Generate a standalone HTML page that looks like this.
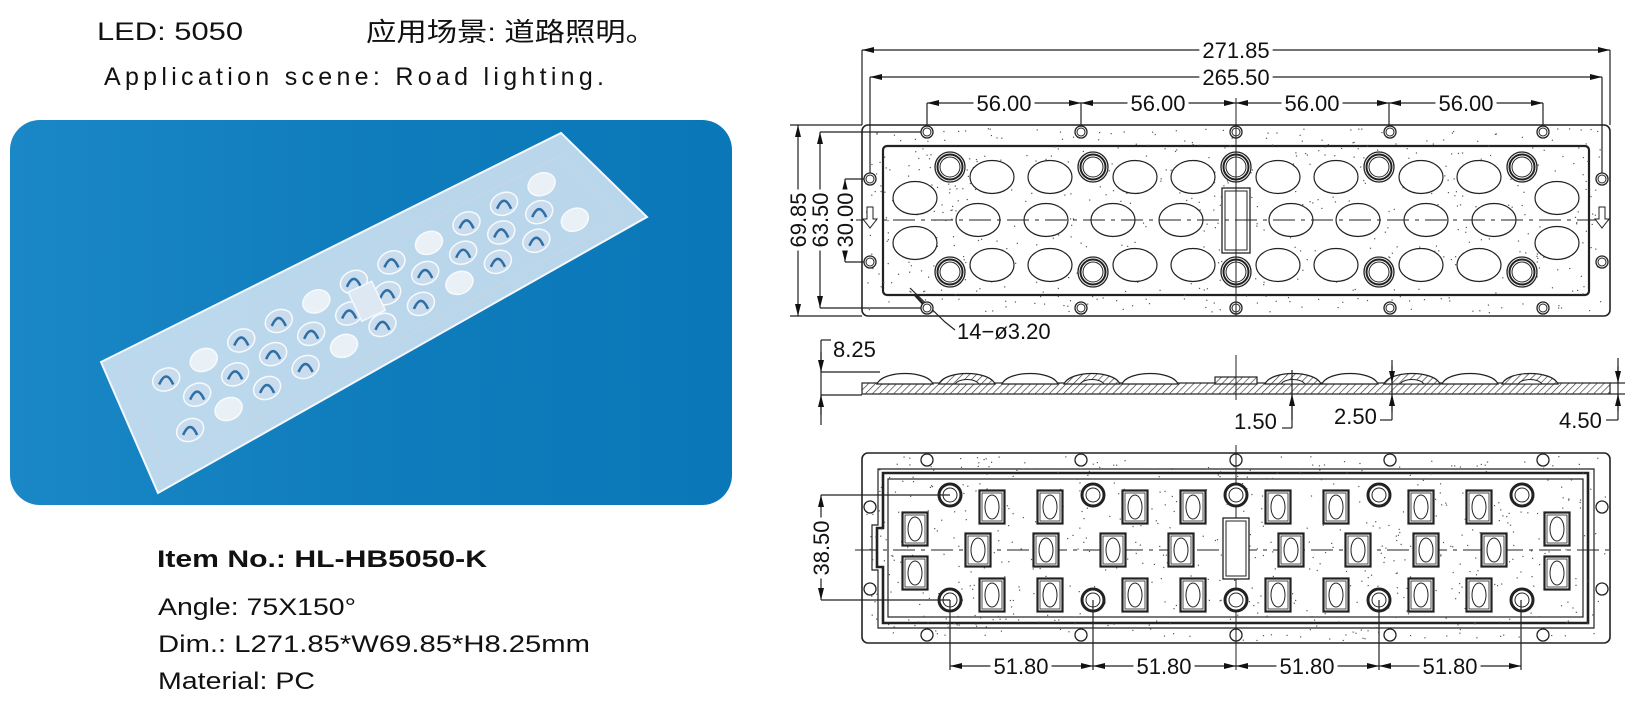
<!DOCTYPE html>
<html><head><meta charset="utf-8">
<style>
html,body{margin:0;padding:0;background:#fff;}
svg{display:block;}
.t{font-family:"Liberation Sans",Arial,sans-serif;fill:#111;}
.d{font-family:"Liberation Sans",Arial,sans-serif;font-size:22px;fill:#111;}
.ln{stroke:#222;stroke-width:1.2;fill:none;}
</style></head>
<body>
<svg id="s" width="1636" height="724" viewBox="0 0 1636 724" xmlns="http://www.w3.org/2000/svg">
<defs>
<marker id="a" viewBox="0 0 12 6" refX="12" refY="3" markerWidth="12" markerHeight="6" orient="auto-start-reverse" markerUnits="userSpaceOnUse"><path d="M0,0 L12,3 L0,6 z" fill="#111"/></marker>
<pattern id="h" width="5" height="5" patternUnits="userSpaceOnUse" patternTransform="rotate(45)"><rect width="5" height="5" fill="#fff"/><line x1="0" y1="0" x2="0" y2="5" stroke="#333" stroke-width="1.3"/></pattern>
<linearGradient id="bg" x1="0" x2="1" y1="0" y2="0"><stop offset="0" stop-color="#1a87c6"/><stop offset="0.5" stop-color="#0f7cbc"/><stop offset="1" stop-color="#0a78b8"/></linearGradient>
</defs>

<text class="t" x="97" y="40" font-size="25" textLength="146" lengthAdjust="spacingAndGlyphs">LED: 5050</text>
<text class="t" x="366" y="41" font-size="26" font-family="'Liberation Sans','Noto Sans CJK SC',sans-serif" textLength="290" lengthAdjust="spacingAndGlyphs">应用场景: 道路照明。</text>
<text class="t" x="104" y="85" font-size="25" textLength="500" lengthAdjust="spacing">Application  scene: Road  lighting.</text>

<rect x="10" y="120" width="722" height="385" rx="30" fill="url(#bg)"/>
<g id="photo">
<polygon points="101,362 561,133 647,217 158,493" fill="#e6eef6" fill-opacity="0.8" stroke="#f4f8fc" stroke-width="2"/>
<polygon points="122,372 560,156 622,218 165,470" fill="none" stroke="#c5d5e6" stroke-width="1.5"/>
</g>

<text class="t" x="157" y="567" font-size="24" font-weight="bold" textLength="330" lengthAdjust="spacingAndGlyphs">Item No.: HL-HB5050-K</text>
<text class="t" x="158" y="615" font-size="24" textLength="198" lengthAdjust="spacingAndGlyphs">Angle: 75X150°</text>
<text class="t" x="158" y="652" font-size="24" textLength="432" lengthAdjust="spacingAndGlyphs">Dim.: L271.85*W69.85*H8.25mm</text>
<text class="t" x="158" y="689" font-size="24" textLength="157" lengthAdjust="spacingAndGlyphs">Material: PC</text>

<g id="top">
<rect x="862" y="125" width="748" height="191" rx="6" fill="#fff" stroke="#222" stroke-width="1.6"/>
<rect x="883" y="146" width="706" height="149" rx="4" fill="none" stroke="#222" stroke-width="2.2"/>
</g>
<g class="ln">
<line x1="862" y1="50" x2="862" y2="125"/><line x1="1610" y1="50" x2="1610" y2="125"/>
<line x1="862" y1="50" x2="1610" y2="50" marker-start="url(#a)" marker-end="url(#a)"/>
<line x1="870" y1="77" x2="870" y2="179"/><line x1="1602" y1="77" x2="1602" y2="179"/>
<line x1="870" y1="77" x2="1602" y2="77" marker-start="url(#a)" marker-end="url(#a)"/>
<line x1="927" y1="103" x2="927" y2="132"/><line x1="1081" y1="103" x2="1081" y2="132"/><line x1="1389" y1="103" x2="1389" y2="132"/><line x1="1543" y1="103" x2="1543" y2="132"/>
<line x1="927" y1="103" x2="1081" y2="103" marker-start="url(#a)" marker-end="url(#a)"/>
<line x1="1081" y1="103" x2="1236" y2="103" marker-start="url(#a)" marker-end="url(#a)"/>
<line x1="1236" y1="103" x2="1389" y2="103" marker-start="url(#a)" marker-end="url(#a)"/>
<line x1="1389" y1="103" x2="1543" y2="103" marker-start="url(#a)" marker-end="url(#a)"/>
<line x1="1236" y1="98" x2="1236" y2="125" stroke-width="1"/>
<line x1="790" y1="125" x2="862" y2="125"/><line x1="790" y1="316" x2="862" y2="316"/>
<line x1="798" y1="125" x2="798" y2="316" marker-start="url(#a)" marker-end="url(#a)"/>
<line x1="820" y1="132" x2="927" y2="132"/><line x1="820" y1="308" x2="927" y2="308"/>
<line x1="820" y1="132" x2="820" y2="308" marker-start="url(#a)" marker-end="url(#a)"/>
<line x1="845" y1="179" x2="870" y2="179"/><line x1="845" y1="262" x2="870" y2="262"/>
<line x1="845" y1="179" x2="845" y2="262" marker-start="url(#a)" marker-end="url(#a)"/>
<polyline points="910,288 945,322 955,330"/>
<line x1="927" y1="308" x2="915" y2="295" stroke-width="2.5"/>
</g>
<g id="topitems"></g>
<path d="M867,207 h6 v12 h4 l-7,9 l-7,-9 h4 z" fill="#fff" stroke="#222" stroke-width="1"/>
<path d="M1599,207 h6 v12 h4 l-7,9 l-7,-9 h4 z" fill="#fff" stroke="#222" stroke-width="1"/>
<g id="dimtext">
<text class="d" x="1236" y="58" text-anchor="middle">271.85</text>
<text class="d" x="1236" y="85" text-anchor="middle">265.50</text>
<text class="d" x="1004" y="111" text-anchor="middle">56.00</text>
<text class="d" x="1158" y="111" text-anchor="middle">56.00</text>
<text class="d" x="1312" y="111" text-anchor="middle">56.00</text>
<text class="d" x="1466" y="111" text-anchor="middle">56.00</text>
<text class="d" transform="translate(806,220) rotate(-90)" text-anchor="middle">69.85</text>
<text class="d" transform="translate(828,220) rotate(-90)" text-anchor="middle">63.50</text>
<text class="d" transform="translate(853,220) rotate(-90)" text-anchor="middle">30.00</text>
<text class="d" transform="translate(829,548) rotate(-90)" text-anchor="middle">38.50</text>
<text class="d" x="1021" y="674" text-anchor="middle">51.80</text>
<text class="d" x="1164" y="674" text-anchor="middle">51.80</text>
<text class="d" x="1307" y="674" text-anchor="middle">51.80</text>
<text class="d" x="1450" y="674" text-anchor="middle">51.80</text>
</g>
<text class="d" x="957" y="339">14−ø3.20</text>

<g id="side"></g>
<g class="ln">
<line x1="821" y1="340" x2="821" y2="425"/>
<line x1="821" y1="340" x2="831" y2="340"/>
<line x1="821" y1="372" x2="880" y2="372"/>
<line x1="821" y1="395" x2="862" y2="395"/>
<line x1="821" y1="352" x2="821" y2="372" marker-end="url(#a)"/>
<line x1="821" y1="415" x2="821" y2="395" marker-end="url(#a)"/>
<line x1="1236" y1="355" x2="1236" y2="400" stroke-width="1"/>
<line x1="1292" y1="370" x2="1292" y2="428"/><polyline points="1282,428 1292,428"/>
<line x1="1292" y1="420" x2="1292" y2="394" marker-end="url(#a)"/>
<line x1="1392" y1="360" x2="1392" y2="420"/><polyline points="1380,420 1392,420"/>
<line x1="1392" y1="366" x2="1392" y2="383" marker-end="url(#a)"/>
<line x1="1392" y1="412" x2="1392" y2="394" marker-end="url(#a)"/>
<line x1="1618" y1="358" x2="1618" y2="420"/><polyline points="1606,420 1618,420"/>
<line x1="1610" y1="383" x2="1625" y2="383"/><line x1="1610" y1="394" x2="1625" y2="394"/>
<line x1="1618" y1="366" x2="1618" y2="383" marker-end="url(#a)"/>
<line x1="1618" y1="411" x2="1618" y2="394" marker-end="url(#a)"/>
</g>
<text class="d" x="833" y="357">8.25</text>
<text class="d" x="1234" y="429">1.50</text>
<text class="d" x="1334" y="424">2.50</text>
<text class="d" x="1559" y="428">4.50</text>

<g id="botbase">
<rect x="862" y="453" width="748" height="190" rx="6" fill="#fff" stroke="#222" stroke-width="1.6"/>
<path d="M878,469 H1594 V628 H878 V570 H872 V525 H878 Z" fill="none" stroke="#222" stroke-width="1.2"/>
<path d="M883,473 H1588 V623 H883 V567 H877 V528 H883 Z" fill="none" stroke="#222" stroke-width="2.6"/>
<rect x="888" y="479" width="695" height="138" fill="none" stroke="#222" stroke-width="1.2"/>
</g>
<g id="botitems"></g>
<g class="ln" id="botdims">
<line x1="821" y1="495" x2="950" y2="495"/><line x1="821" y1="600" x2="950" y2="600"/>
<line x1="821" y1="495" x2="821" y2="600" marker-start="url(#a)" marker-end="url(#a)"/>
<line x1="950" y1="600" x2="950" y2="670"/><line x1="1093" y1="600" x2="1093" y2="670"/><line x1="1379" y1="600" x2="1379" y2="670"/><line x1="1521" y1="600" x2="1521" y2="670"/>
<line x1="950" y1="666" x2="1093" y2="666" marker-start="url(#a)" marker-end="url(#a)"/>
<line x1="1093" y1="666" x2="1236" y2="666" marker-start="url(#a)" marker-end="url(#a)"/>
<line x1="1236" y1="666" x2="1379" y2="666" marker-start="url(#a)" marker-end="url(#a)"/>
<line x1="1379" y1="666" x2="1521" y2="666" marker-start="url(#a)" marker-end="url(#a)"/>
</g>
</svg>
<script>
(function(){
var NS="http://www.w3.org/2000/svg";
function el(p,t,a,before){var e=document.createElementNS(NS,t);for(var k in a)e.setAttribute(k,a[k]);if(before)p.insertBefore(e,before);else p.appendChild(e);return e;}
var ringsX=[950,1093,1236,1379,1522], holesX=[927,1081,1236,1390,1543];
var topX=[992,1050,1135,1193,1278,1336,1421,1479], midX=[978,1046,1113,1181,1291,1358,1426,1494];
var seed=7;function r(){seed=(seed*9301+49297)%233280;return seed/233280;}
function stip(g,x,y,w,h,n){for(var i=0;i<n;i++)el(g,'rect',{x:x+r()*w,y:y+r()*h,width:1.2,height:1.2,fill:'#555'});}
var T=document.getElementById('topitems');
stip(T,866,128,740,185,700);
function hole(g,x,y,dbl){el(g,'circle',{cx:x,cy:y,r:6,fill:'#fff',stroke:'#222','stroke-width':1.3});if(dbl)el(g,'circle',{cx:x,cy:y,r:4,fill:'none',stroke:'#222','stroke-width':1});}
holesX.forEach(function(x){hole(T,x,132,1);hole(T,x,308,1);});
[[870,179],[870,262],[1602,179],[1602,262]].forEach(function(p){hole(T,p[0],p[1],1);});
ringsX.forEach(function(x){[167,272].forEach(function(y){el(T,'circle',{cx:x,cy:y,r:15,fill:'#fff',stroke:'#222','stroke-width':1.3});el(T,'circle',{cx:x,cy:y,r:12.5,fill:'none',stroke:'#222','stroke-width':2});el(T,'circle',{cx:x,cy:y,r:10,fill:'none',stroke:'#222','stroke-width':1});});});
function ov(x,y){el(T,'ellipse',{cx:x,cy:y,rx:22,ry:16.5,fill:'#fff',stroke:'#222','stroke-width':1.2});}
topX.forEach(function(x){ov(x,177);ov(x,265);});
midX.forEach(function(x){ov(x,220);});
[915,1557].forEach(function(x){ov(x,198);ov(x,243);});
el(T,'rect',{x:1222,y:188,width:28,height:65,fill:'#fff',stroke:'#222','stroke-width':1.3});
el(T,'rect',{x:1225,y:191,width:22,height:59,fill:'none',stroke:'#222','stroke-width':1});
el(T,'line',{x1:855,y1:220,x2:1615,y2:220,stroke:'#222','stroke-width':1,'stroke-dasharray':'22,6,4,6'});
el(T,'line',{x1:1236,y1:125,x2:1236,y2:316,stroke:'#222','stroke-width':1});
var S=document.getElementById('side');
var domes=[905,967,1030,1092,1150,1293,1350,1412,1470,1530];
el(S,'rect',{x:862,y:383,width:748,height:11,fill:'url(#h)',stroke:'#222','stroke-width':1.2});
domes.forEach(function(x,i){
 var hatch=(i%2==1);
 el(S,'path',{d:'M'+(x-28)+',384 C'+(x-22)+',370 '+(x+22)+',370 '+(x+28)+',384 Z',fill:hatch?'url(#h)':'#fff',stroke:'#222','stroke-width':1.2});
 if(hatch)el(S,'path',{d:'M'+(x-12)+',384 C'+(x-8)+',378 '+(x+8)+',378 '+(x+12)+',384 Z',fill:'#fff',stroke:'#222','stroke-width':1});
});
el(S,'rect',{x:1215,y:377,width:42,height:7,fill:'url(#h)',stroke:'#222','stroke-width':1.2});
var B=document.getElementById('botitems');
stip(B,866,456,740,184,700);
holesX.forEach(function(x){hole(B,x,460,0);hole(B,x,635,0);});
[[870,507],[870,589],[1602,507],[1602,589]].forEach(function(p){hole(B,p[0],p[1],0);});
el(B,'line',{x1:855,y1:550,x2:1615,y2:550,stroke:'#222','stroke-width':1,'stroke-dasharray':'22,6,4,6'});
el(B,'line',{x1:1236,y1:445,x2:1236,y2:670,stroke:'#222','stroke-width':1});
ringsX.forEach(function(x){[495,600].forEach(function(y){el(B,'circle',{cx:x,cy:y,r:11,fill:'#fff',stroke:'#222','stroke-width':3});el(B,'circle',{cx:x,cy:y,r:7,fill:'none',stroke:'#222','stroke-width':1});});});
function pad(x,y){el(B,'rect',{x:x-12.5,y:y-16.5,width:25,height:33,fill:'#fff',stroke:'#222','stroke-width':2.2});el(B,'rect',{x:x-10,y:y-14,width:20,height:28,fill:'none',stroke:'#222','stroke-width':0.8});el(B,'ellipse',{cx:x,cy:y,rx:7,ry:12,fill:'none',stroke:'#222','stroke-width':1});}
topX.forEach(function(x){pad(x,507);pad(x,595);});
midX.forEach(function(x){pad(x,550);});
[915,1557].forEach(function(x){pad(x,529);pad(x,573);});
el(B,'rect',{x:1223,y:518,width:26,height:61,fill:'#fff',stroke:'#222','stroke-width':1.3});
el(B,'rect',{x:1226,y:521,width:20,height:55,fill:'none',stroke:'#222','stroke-width':1});
// move dimension texts to end and back them with white rects
var svg=document.getElementById('s');
var DT=document.getElementById('dimtext');
svg.appendChild(DT);
Array.prototype.slice.call(DT.querySelectorAll('text')).forEach(function(t){
 var b=t.getBBox();
 el(DT,'rect',{x:b.x-3,y:b.y+2,width:b.width+6,height:b.height-4,fill:'#fff',transform:t.getAttribute('transform')||''},t);
});
var P=document.getElementById('photo');
var A=[101,362],Bp=[561,133],C=[647,217],D=[158,493];
function bl(sv,t){var x=(1-t)*((1-sv)*A[0]+sv*Bp[0])+t*((1-sv)*D[0]+sv*C[0]);var y=(1-t)*((1-sv)*A[1]+sv*Bp[1])+t*((1-sv)*D[1]+sv*C[1]);return [x,y];}
var rows=[0.32,0.52,0.72];
for(var i=0;i<11;i++){for(var j=0;j<3;j++){var sv=0.1+i*0.08+(j==1?0.04:0);if(sv>0.93)continue;var p=bl(sv,rows[j]);
 var ring=(i%3==1&&j!=1);
 el(P,'ellipse',{cx:p[0],cy:p[1],rx:14,ry:11,fill:ring?'#e9f0f6':'#c8dcee',stroke:'#f7fafd','stroke-width':1.5,transform:'rotate(-25 '+p[0]+' '+p[1]+')'});
 if(!ring){el(P,'path',{d:'M'+(p[0]-7)+','+(p[1]+5)+' q7,-16 14,0',fill:'none',stroke:'#2f6fa5','stroke-width':2.5});}
}}
var c=bl(0.5,0.5);el(P,'rect',{x:c[0]-13,y:c[1]-16,width:26,height:32,fill:'#dde8f2',stroke:'#f5f9fc','stroke-width':1.5,transform:'rotate(-25 '+c[0]+' '+c[1]+')'});
})();
</script>
</body></html>
